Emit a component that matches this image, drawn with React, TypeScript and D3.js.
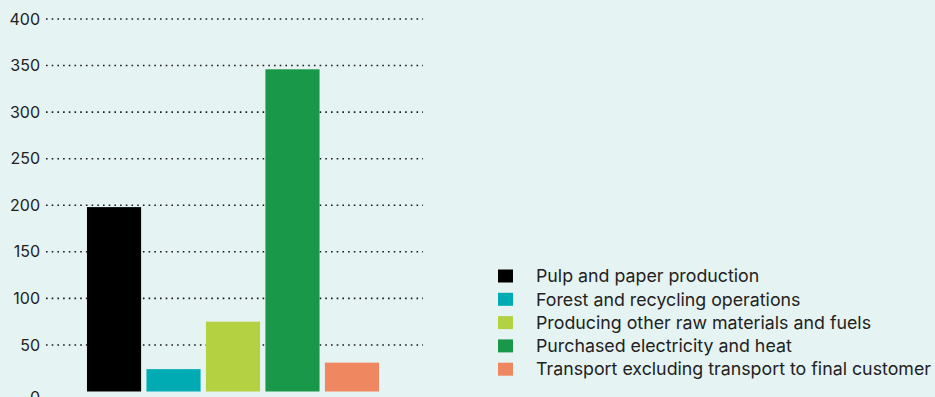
import React from "react";
import * as d3 from "d3";

const categories = [
  "Pulp and paper production",
  "Forest and recycling operations",
  "Producing other raw materials and fuels",
  "Purchased electricity and heat",
  "Transport excluding transport to final customer",
];
const values = [198, 24, 75, 346, 31];
const colors = ["#000000", "#00abb3", "#b3d141", "#1a9849", "#ef8860"];
const yTicks = [0, 50, 100, 150, 200, 250, 300, 350, 400];

const W = 935;
const H = 397;
const FONT = "Inter, 'Liberation Sans', Arial, sans-serif";

export default function App() {
  const y = d3.scaleLinear().domain([0, 400]).range([391.5, 19]);
  const x = d3
    .scaleBand<string>()
    .domain(categories)
    .range([84, 382])
    .paddingInner(0.09)
    .paddingOuter(0.05);

  return (
    <svg
      width={W}
      height={H}
      style={{ position: "fixed", left: 0, top: 0, background: "#e6f3f3" }}
    >
      <rect x={0} y={0} width={W} height={H} fill="#e6f3f3" />
      {yTicks.map((t) => (
        <g key={t}>
          {t > 0 && (
            <line
              x1={46}
              x2={423}
              y1={y(t)}
              y2={y(t)}
              stroke="#1a1a1a"
              strokeWidth={1.6}
              strokeDasharray="1.6 4.1"
            />
          )}
          <text
            x={40}
            y={t === 0 ? y(t) + 6 : y(t)}
            dy="0.35em"
            textAnchor="end"
            fontFamily={FONT}
            fontSize={16}
            fill="#222"
          >
            {t}
          </text>
        </g>
      ))}
      {categories.map((c, i) => (
        <rect
          key={c}
          x={x(c)}
          y={y(values[i])}
          width={x.bandwidth()}
          height={y(0) - y(values[i])}
          fill={colors[i]}
        />
      ))}
      {categories.map((c, i) => (
        <g key={c} transform={`translate(498, ${276 + i * 23.3})`}>
          <rect x={0} y={-6.5} width={15} height={13} fill={colors[i]} />
          <text
            x={38}
            y={0}
            dy="0.35em"
            fontFamily={FONT}
            fontSize={17.8}
            fill="#222"
          >
            {c}
          </text>
        </g>
      ))}
    </svg>
  );
}
